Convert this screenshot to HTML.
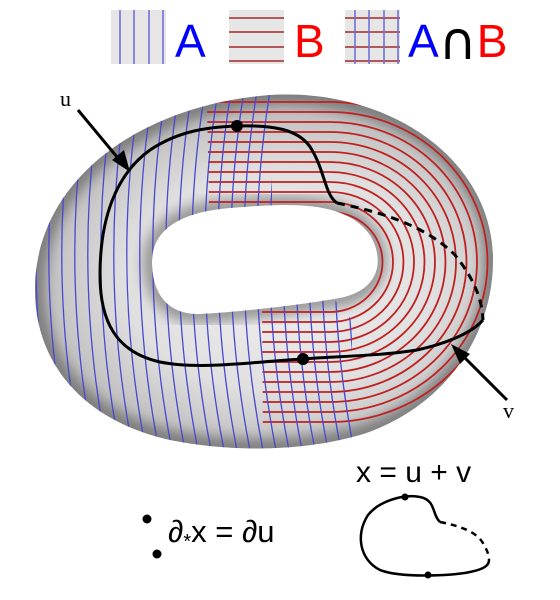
<!DOCTYPE html>
<html><head><meta charset="utf-8"><style>
html,body{margin:0;padding:0;background:#fff;}
svg{display:block;}
text{font-family:"Liberation Sans",sans-serif;}
</style></head><body>
<svg width="560" height="600" viewBox="0 0 560 600">
<defs>
<radialGradient id="tg" cx="0.5" cy="0.5" r="0.55">
<stop offset="0" stop-color="#f0f0f0"/><stop offset="0.5" stop-color="#e0e0e0"/><stop offset="0.75" stop-color="#c2c2c2"/><stop offset="0.92" stop-color="#9c9c9c"/><stop offset="1" stop-color="#747474"/>
</radialGradient>
<filter id="bl"><feGaussianBlur stdDeviation="7"/></filter>
<clipPath id="torusClip"><path clip-rule="evenodd" d="M35,290 C35,180 140,105 270,95 C390,88 493,160 493,260 C493,340 440,410 360,435 C300,452 230,452 170,440 C80,420 35,360 35,290 Z M152,262 C152,230 180,212 230,208 C290,203 345,200 370,235 C385,260 380,290 340,298 C300,305 240,312 200,314 C165,315 152,290 152,262 Z"/></clipPath>
<clipPath id="blueClip"><polygon points="0,0 272,0 272,200 300,260 352,320 352,600 0,600"/></clipPath>
<clipPath id="redClip"><polygon points="205,0 560,0 560,600 264,600 262,300 210,260"/></clipPath>
</defs>

<g>
<g>
<rect x="111" y="10" width="55" height="54" fill="#e6e6e6"/>
<g stroke="#6a6ad8" stroke-width="1.5"><line x1="120" y1="10" x2="120" y2="64"/><line x1="134" y1="10" x2="134" y2="64"/><line x1="149" y1="10" x2="149" y2="64"/><line x1="163" y1="10" x2="163" y2="64"/></g>
<text x="175" y="57" font-size="46" fill="#0000ff">A</text></g>
<g>
<rect x="229" y="10" width="55" height="54" fill="#e6e6e6"/>
<g stroke="#a02828" stroke-width="1.5"><line x1="229" y1="18" x2="284" y2="18"/><line x1="229" y1="32" x2="284" y2="32"/><line x1="229" y1="47" x2="284" y2="47"/><line x1="229" y1="61" x2="284" y2="61"/></g>
<text x="294" y="57" font-size="46" fill="#ff0000">B</text></g>
<g>
<rect x="345" y="10" width="55" height="54" fill="#e6e6e6"/>
<g stroke="#a02828" stroke-width="1.5"><line x1="345" y1="18" x2="400" y2="18"/><line x1="345" y1="32" x2="400" y2="32"/><line x1="345" y1="47" x2="400" y2="47"/><line x1="345" y1="61" x2="400" y2="61"/></g>
<g stroke="#6a6ad8" stroke-width="1.5"><line x1="355" y1="10" x2="355" y2="64"/><line x1="369" y1="10" x2="369" y2="64"/><line x1="384" y1="10" x2="384" y2="64"/><line x1="398" y1="10" x2="398" y2="64"/></g>
<text x="408" y="57" font-size="46"><tspan fill="#0000ff">A</tspan><tspan fill="#000" font-size="52" style="font-family:'DejaVu Sans',sans-serif" dy="2">∩</tspan><tspan fill="#ff0000" dy="-2">B</tspan></text></g>
</g>

<g>
<g clip-path="url(#torusClip)">
<rect x="0" y="80" width="560" height="400" fill="url(#tg)"/>
<path d="M152,262 C152,230 180,212 230,208 C290,203 345,200 370,235 C385,260 380,290 340,298 C300,305 240,312 200,314 C165,315 152,290 152,262 Z" fill="none" stroke="#8a8a8a" stroke-width="16" filter="url(#bl)"/>
<path d="M35,290 C35,180 140,105 270,95 C390,88 493,160 493,260 C493,340 440,410 360,435 C300,452 230,452 170,440 C80,420 35,360 35,290 Z" fill="none" stroke="#777" stroke-width="18" filter="url(#bl)"/>
<g id="red" clip-path="url(#redClip)" fill="none" stroke="#c02020" stroke-width="1.8"></g>
<g id="blue" clip-path="url(#blueClip)" fill="none" stroke="#4848d0" stroke-width="1.3"></g>
</g>
</g>

<g fill="none" stroke="#000" stroke-width="3">
<path d="M303,359 C250,362 200,370 160,362 C115,352 100,320 100,275 C100,220 115,175 150,150 C180,130 210,127 237,126"/>
<path d="M237,126 C270,125 300,128 312,150 C325,172 325,195 337,203"/>
<path stroke-dasharray="8,6" d="M337,203 C380,212 425,225 455,255 C475,280 482,300 483,320"/>
<path d="M483,320 C470,335 440,345 417,350 C380,356 340,356 303,359"/>
</g>
<circle cx="237" cy="126" r="6" fill="#000"/>
<circle cx="303" cy="359" r="6" fill="#000"/>

<g>
<line x1="78" y1="110" x2="122" y2="163" stroke="#000" stroke-width="3"/>
<polygon points="130,172 112,160 124,150" fill="#000"/>
<text x="60" y="106" font-size="22" style="font-family:'Liberation Serif',serif">u</text>
</g>
<g>
<line x1="507" y1="400" x2="459" y2="352" stroke="#000" stroke-width="3"/>
<polygon points="451,344 470,354 460,364" fill="#000"/>
<text x="503" y="418" font-size="22" style="font-family:'Liberation Serif',serif">v</text>
</g>

<text x="356" y="482" font-size="30">x = u + v</text>
<circle cx="147" cy="519" r="4.5" fill="#000"/>
<circle cx="157" cy="554" r="4.5" fill="#000"/>
<text x="168" y="542" font-size="31">∂<tspan font-size="20" dy="6">*</tspan><tspan dy="-6">x = ∂u</tspan></text>

<g fill="none" stroke="#000" stroke-width="2.5">
<path d="M440,522 C432,515 436,500 420,497 C405,494 380,500 368,515 C355,535 360,560 380,570 C400,578 450,576 470,572 C485,569 489,565 489,560"/>
<path stroke-dasharray="6,5" d="M440,522 C460,526 478,532 484,545 C488,552 489,556 489,560"/>
</g>
<circle cx="405" cy="497" r="3.5" fill="#000"/>
<circle cx="428" cy="575" r="3.5" fill="#000"/>

<script>
const blueOffsets = [40,53,66,79,92,105,118,131,144,157,170,183,196,209,222,235,248,261,274,287,300,313,326,339,352];
const redRadii = [50,60,70,80,90,100,110,120,130,140,150,160];
const ns = 'http://www.w3.org/2000/svg';
const blue = document.getElementById('blue');
blueOffsets.forEach(function(x){
  const p = document.createElementNS(ns,'path');
  p.setAttribute('d','M'+(x+10)+',85 Q'+(x-22)+',275 '+(x+18)+',465');
  
  
  blue.appendChild(p);
});
const red = document.getElementById('red');
redRadii.forEach(function(r){
  const p = document.createElementNS(ns,'path');
  const cx = 330, cy = 262, rx = r*1.05, ry = r;
  p.setAttribute('d','M'+(cx-rx-120)+','+(cy-ry)+' L'+cx+','+(cy-ry)+' A'+rx+','+ry+' 0 0 1 '+cx+','+(cy+ry)+' L'+(cx-rx-120)+','+(cy+ry));
  
  
  red.appendChild(p);
});
</script>
</svg>
</body></html>
